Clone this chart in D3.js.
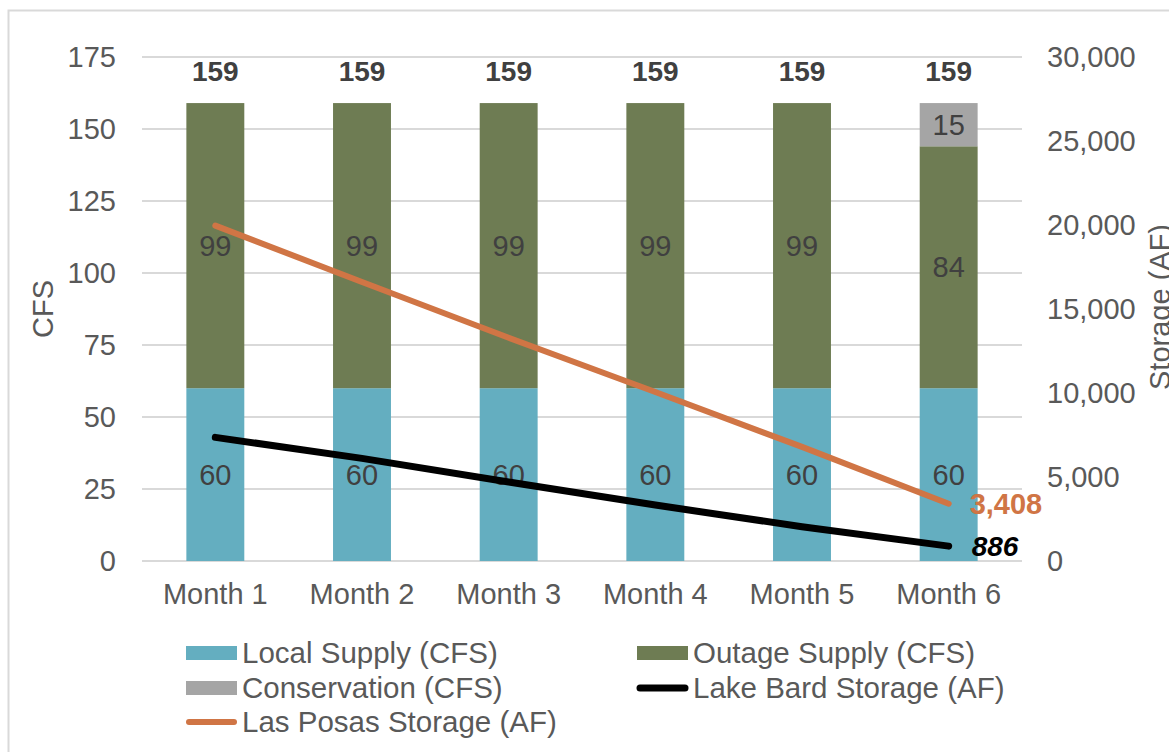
<!DOCTYPE html>
<html>
<head>
<meta charset="utf-8">
<script src="https://cdn.jsdelivr.net/npm/d3@7/dist/d3.min.js"></script>
<style>
  html, body { margin: 0; padding: 0; background: #fff; }
  svg { display: block; font-family: "Liberation Sans", Arial, sans-serif; }
</style>
</head>
<body>
<svg id="chart" width="1169" height="752"></svg>
<script>
// Monthly supply (CFS, stacked bars) and reservoir storage (AF, lines)
const months = ["Month 1", "Month 2", "Month 3", "Month 4", "Month 5", "Month 6"];
const localSupply = [60, 60, 60, 60, 60, 60];
const outageSupply = [99, 99, 99, 99, 99, 84];
const conservation = [0, 0, 0, 0, 0, 15];
const lasPosasStorage = [19960, 16610, 13290, 10060, 6790, 3408];
const lakeBardStorage = [7360, 6110, 4700, 3330, 2040, 886];
const cfsTicks = [0, 25, 50, 75, 100, 125, 150, 175];
const storageTicks = [0, 5000, 10000, 15000, 20000, 25000, 30000];

const barSeries = [
  { key: "local", name: "Local Supply (CFS)", values: localSupply, color: "#64aec0" },
  { key: "outage", name: "Outage Supply (CFS)", values: outageSupply, color: "#6e7c53" },
  { key: "cons", name: "Conservation (CFS)", values: conservation, color: "#a5a5a5" }
];
const lineSeries = [
  { key: "bard", name: "Lake Bard Storage (AF)", values: lakeBardStorage, color: "#000000", width: 7 },
  { key: "posas", name: "Las Posas Storage (AF)", values: lasPosasStorage, color: "#d07545", width: 6 }
];

const svg = d3.select("#chart");
const W = 1169, H = 752;
const plot = { left: 142, right: 1022, top: 57, bottom: 561 };

// chart frame
svg.append("rect")
  .attr("x", 8.5).attr("y", 10.5)
  .attr("width", W + 20).attr("height", H + 20)
  .attr("fill", "#fff").attr("stroke", "#d9d9d9").attr("stroke-width", 2);

const x = d3.scaleBand().domain(months).range([plot.left, plot.right]).paddingInner(0.605).paddingOuter(0.3025);
const yL = d3.scaleLinear().domain([0, 175]).range([plot.bottom, plot.top]);
const yR = d3.scaleLinear().domain([0, 30000]).range([plot.bottom, plot.top]);
const cx = m => x(m) + x.bandwidth() / 2;

// gridlines
svg.append("g").selectAll("line").data(cfsTicks).join("line")
  .attr("x1", plot.left).attr("x2", plot.right)
  .attr("y1", d => yL(d)).attr("y2", d => yL(d))
  .attr("stroke", "#d9d9d9").attr("stroke-width", 2);

// left axis
const leftAxis = svg.append("g").attr("transform", `translate(${plot.left},0)`)
  .call(d3.axisLeft(yL).tickValues(cfsTicks).tickSize(0).tickPadding(26));
leftAxis.select(".domain").remove();
leftAxis.selectAll("text").attr("font-size", 29).attr("fill", "#595959")
  .attr("font-family", "Liberation Sans, Arial, sans-serif");

// right axis
const rightAxis = svg.append("g").attr("transform", `translate(${plot.right},0)`)
  .call(d3.axisRight(yR).tickValues(storageTicks).tickSize(0).tickPadding(25).tickFormat(d3.format(",")));
rightAxis.select(".domain").remove();
rightAxis.selectAll("text").attr("font-size", 29).attr("fill", "#595959")
  .attr("font-family", "Liberation Sans, Arial, sans-serif");

// category axis
const bottomAxis = svg.append("g").attr("transform", `translate(0,${plot.bottom})`)
  .call(d3.axisBottom(x).tickSize(0).tickPadding(22));
bottomAxis.select(".domain").remove();
bottomAxis.selectAll("text").attr("font-size", 29).attr("fill", "#595959")
  .attr("font-family", "Liberation Sans, Arial, sans-serif");

// axis titles
svg.append("text")
  .attr("transform", `translate(53,${(plot.top + plot.bottom) / 2}) rotate(-90)`)
  .attr("text-anchor", "middle").attr("font-size", 29).attr("fill", "#595959")
  .text("CFS");
svg.append("text")
  .attr("transform", `translate(1170,${(plot.top + plot.bottom) / 2 - 2}) rotate(-90)`)
  .attr("text-anchor", "middle").attr("font-size", 29).attr("fill", "#595959")
  .text("Storage (AF)");

// stacked bars
const table = months.map((m, i) => ({ month: m, local: localSupply[i], outage: outageSupply[i], cons: conservation[i] }));
const stack = d3.stack().keys(barSeries.map(s => s.key))(table);
const barG = svg.append("g");
stack.forEach((layer, li) => {
  const s = barSeries[li];
  barG.append("g").selectAll("rect").data(layer).join("rect")
    .attr("x", d => x(d.data.month))
    .attr("width", x.bandwidth())
    .attr("y", d => yL(d[1]))
    .attr("height", d => yL(d[0]) - yL(d[1]))
    .attr("fill", s.color);
  barG.append("g").selectAll("text").data(layer.filter(d => d[1] - d[0] > 0)).join("text")
    .attr("x", d => cx(d.data.month))
    .attr("y", d => yL((d[0] + d[1]) / 2))
    .attr("dy", "0.35em")
    .attr("text-anchor", "middle")
    .attr("font-size", 29).attr("fill", "#404040")
    .text(d => d[1] - d[0]);
});

// totals above the bars
svg.append("g").selectAll("text").data(table).join("text")
  .attr("x", d => cx(d.month))
  .attr("y", yL(175) + 24)
  .attr("text-anchor", "middle")
  .attr("font-size", 28).attr("font-weight", "bold").attr("fill", "#404040")
  .text(d => d.local + d.outage + d.cons);

// storage lines
const line = d3.line().x((d, i) => cx(months[i])).y(d => yR(d));
lineSeries.forEach(s => {
  svg.append("path").datum(s.values)
    .attr("d", line)
    .attr("fill", "none").attr("stroke", s.color).attr("stroke-width", s.width)
    .attr("stroke-linecap", "round").attr("stroke-linejoin", "round");
});

// end-of-line value labels
const last = months.length - 1;
svg.append("text")
  .attr("x", cx(months[last]) + 21).attr("y", yR(lasPosasStorage[last]))
  .attr("dy", "0.35em")
  .attr("font-size", 29).attr("font-weight", "bold").attr("fill", "#d07545")
  .text(d3.format(",")(lasPosasStorage[last]));
svg.append("text")
  .attr("x", cx(months[last]) + 23).attr("y", yR(lakeBardStorage[last]))
  .attr("dy", "0.35em")
  .attr("font-size", 28).attr("font-weight", "bold").attr("font-style", "italic").attr("fill", "#000")
  .text(d3.format(",")(lakeBardStorage[last]));

// legend
const legendItems = [
  { s: barSeries[0], type: "bar", col: 0, row: 0 },
  { s: barSeries[1], type: "bar", col: 1, row: 0 },
  { s: barSeries[2], type: "bar", col: 0, row: 1 },
  { s: lineSeries[0], type: "line", col: 1, row: 1 },
  { s: lineSeries[1], type: "line", col: 0, row: 2 }
];
const legend = svg.append("g");
const colX = [186, 637], rowY = [653, 688, 722];
legendItems.forEach(it => {
  const gx = colX[it.col], gy = rowY[it.row];
  const g = legend.append("g").attr("transform", `translate(${gx},${gy})`);
  if (it.type === "bar") {
    g.append("rect").attr("x", 0).attr("y", -7).attr("width", 51).attr("height", 14).attr("fill", it.s.color);
  } else {
    g.append("line").attr("x1", 3).attr("x2", 48).attr("y1", 0).attr("y2", 0)
      .attr("stroke", it.s.color).attr("stroke-width", it.s.width).attr("stroke-linecap", "round");
  }
  g.append("text").attr("x", 56).attr("y", 0).attr("dy", "0.35em")
    .attr("font-size", 29.5).attr("fill", "#595959").text(it.s.name);
});
</script>
</body>
</html>
